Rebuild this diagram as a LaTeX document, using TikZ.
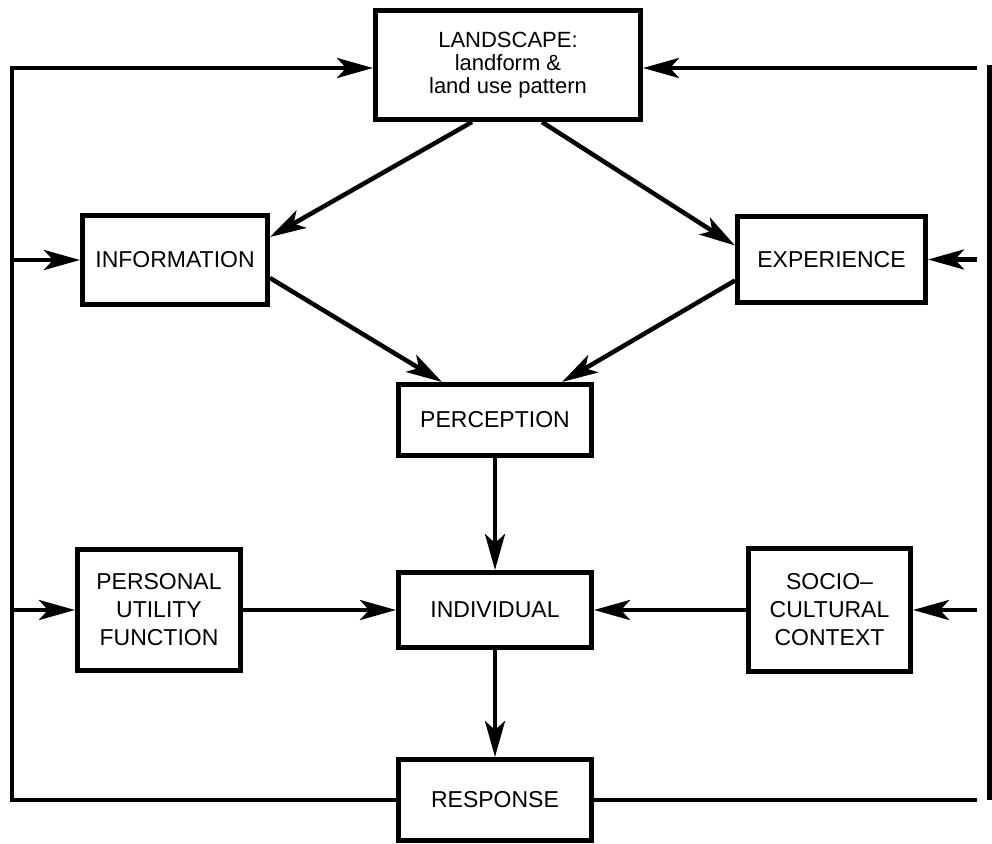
\documentclass[tikz,border=0pt]{standalone}
\usepackage{fontspec}
\setmainfont{Liberation Sans}
\usetikzlibrary{arrows.meta}

\begin{document}
\begin{tikzpicture}[x=1pt, y=-1pt,
              box/.style={rectangle, draw, line width=5pt, inner sep=0pt,
                          align=center, font=\fontsize{23}{28}\selectfont},
              link/.style={draw=black, line width=4.5pt},
              >={Stealth[length=36pt, width=20pt, inset=9pt]},
              every edge/.style={link}]
    \useasboundingbox (0,0) rectangle (992,843);

    \node[box, minimum width=265pt, minimum height=109pt,
          font=\fontsize{22}{23}\selectfont] (landscape) at (508,65)
          {LANDSCAPE:\\ landform \&\\ land use pattern};
    \node[box, minimum width=185pt, minimum height=89pt] (information) at (175,260) {INFORMATION};
    \node[box, minimum width=188pt, minimum height=86pt] (experience) at (831.5,259.5) {EXPERIENCE};
    \node[box, minimum width=193pt, minimum height=71pt] (perception) at (495,420) {PERCEPTION};
    \node[box, minimum width=193pt, minimum height=75pt] (individual) at (495,610) {INDIVIDUAL};
    \node[box, minimum width=163pt, minimum height=121pt] (personal) at (159,610) {PERSONAL\\ UTILITY\\ FUNCTION};
    \node[box, minimum width=162pt, minimum height=123pt] (socio) at (829.5,610) {SOCIO--\\ CULTURAL\\ CONTEXT};
    \node[box, minimum width=193pt, minimum height=81pt] (response) at (495,800) {RESPONSE};

    \coordinate (lt) at (12,68);
    \coordinate (rt) at (977,68);
    \coordinate (rtop) at (989.5,65);
    \coordinate (rbot) at (989.5,800);

    \path [->] ([xshift=-36pt]landscape.south) edge ([yshift=23pt]information.east);
    \path [->] ([xshift=34pt]landscape.south) edge ([yshift=14pt]experience.west);
    \path [->] ([yshift=-18pt]information.east) edge ([xshift=-53pt]perception.north);
    \path [->] ([yshift=-21pt]experience.west) edge ([xshift=67pt]perception.north);
    \path [->] (perception) edge (individual);
    \path [->] (individual) edge (response);
    \path [->] (personal) edge (individual);
    \path [->] (socio) edge (individual);

    % feedback on the left
    \draw [link, ->] (response) -| (lt) -- (lt -| landscape.west);
    \draw [link, ->] (lt |- information) -- (information);
    \draw [link, ->] (lt |- personal) -- (personal);

    % feedback on the right
    \draw [link] (response) -- (response -| rt);
    \draw [link] (rtop) -- (rbot);
    \draw [link, ->] (rt) -- (rt -| landscape.east);
    \draw [link, ->] (rt |- experience) -- (experience);
    \draw [link, ->] (rt |- socio) -- (socio);
\end{tikzpicture}
\end{document}
